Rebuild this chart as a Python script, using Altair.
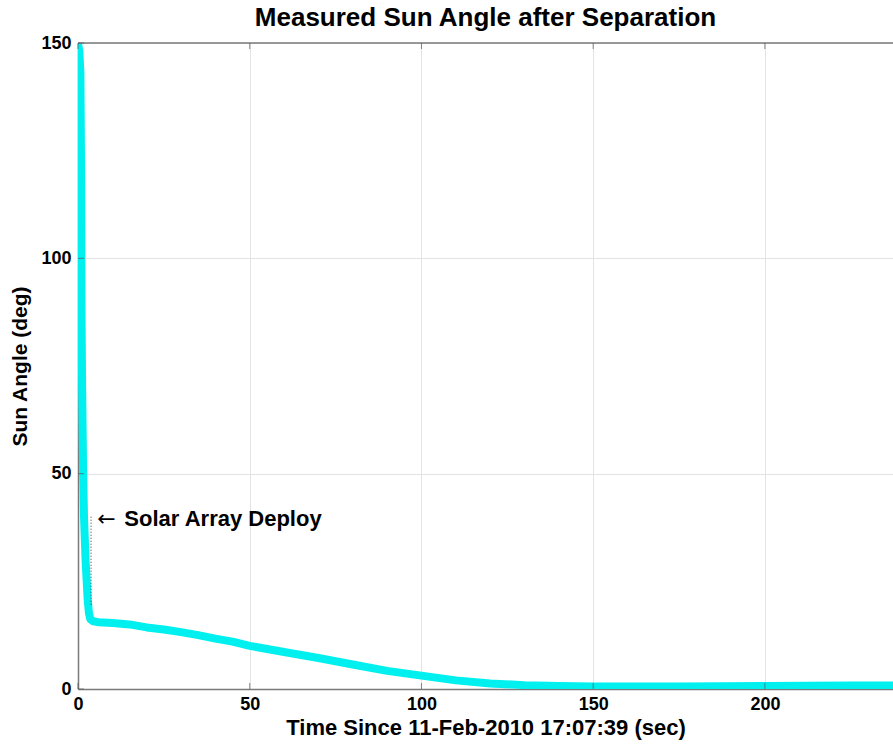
import altair as alt
import pandas as pd

# Sun angle curve
time_sec = [0, 0.4, 0.7, 0.9, 1.0, 1.2, 1.5, 1.75, 2.2, 2.8, 3.2, 3.6, 4.5, 6, 10, 15, 20, 25, 30, 35, 40,
            45, 50, 60, 70, 80, 90, 100, 110, 120, 130, 140, 150, 175, 200, 225, 240]
sun_deg = [150, 148, 143, 120, 90, 70, 50, 40, 30, 21, 17.5, 16.2, 15.7, 15.5, 15.3, 15.0, 14.3, 13.8, 13.2, 12.5, 11.7,
           11.0, 10.0, 8.6, 7.2, 5.7, 4.2, 3.1, 2.0, 1.3, 0.9, 0.7, 0.6, 0.6, 0.7, 0.8, 0.8]

x_ticks = [0, 50, 100, 150, 200]
y_ticks = [0, 50, 100, 150]

deploy_time = [3.8]
deploy_top = [40]
deploy_bottom = [19.5]
arrow_text = ["\u2190"]
arrow_x = [5.6]
label_text = ["Solar Array Deploy"]
label_x = [13.5]
annot_y = [39.5]

X_MAX = 237.3

df = pd.DataFrame({"t": time_sec, "a": sun_deg})
xs = alt.Scale(domain=[0, X_MAX], nice=False, zero=False)
ys = alt.Scale(domain=[0, 150], nice=False)

FONT = "Liberation Sans"

line = alt.Chart(df).mark_line(color="#00F0F0", strokeWidth=8, clip=True, strokeJoin="round", strokeCap="round").encode(
    x=alt.X("t:Q", scale=xs, axis=alt.Axis(
        values=x_ticks, title="Time Since 11-Feb-2010 17:07:39 (sec)", grid=True, gridColor="#e3e3e3",
        domainColor="#7a7a7a", domainWidth=1.5, ticks=False, labelFontSize=18, labelFontWeight="bold",
        labelColor="black", labelFont=FONT, labelPadding=6, titleFontSize=22, titleFontWeight="bold",
        titleFont=FONT, titleColor="black", titlePadding=4, labelFlush=False)),
    y=alt.Y("a:Q", scale=ys, axis=alt.Axis(
        values=y_ticks, title="Sun Angle (deg)", grid=True, gridColor="#e3e3e3",
        domainColor="#7a7a7a", domainWidth=1.5, ticks=False, labelFontSize=18, labelFontWeight="bold",
        labelColor="black", labelFont=FONT, labelPadding=7, titleFontSize=21, titleFontWeight="bold",
        titleFont=FONT, titleColor="black", titlePadding=10)),
)

top_border = alt.Chart(pd.DataFrame({"y": [150]})).mark_rule(color="#7a7a7a", strokeWidth=1.5).encode(
    y=alt.Y("y:Q", scale=ys), x=alt.value(0), x2=alt.value(815))

xt = pd.DataFrame({"t": x_ticks})
bottom_ticks = alt.Chart(xt).mark_tick(color="#555555", size=6, thickness=1).encode(
    x=alt.X("t:Q", scale=xs), y=alt.value(643))
top_ticks = alt.Chart(xt).mark_tick(color="#555555", size=6, thickness=1).encode(
    x=alt.X("t:Q", scale=xs), y=alt.value(3))
yt = pd.DataFrame({"a": y_ticks})
left_ticks = alt.Chart(yt).mark_tick(color="#555555", size=6, thickness=1).encode(
    y=alt.Y("a:Q", scale=ys), x=alt.value(3))

dep = pd.DataFrame({"t": deploy_time, "y1": deploy_top, "y2": deploy_bottom})
deploy = alt.Chart(dep).mark_rule(color="#333333", strokeWidth=1, strokeDash=[1, 2]).encode(
    x=alt.X("t:Q", scale=xs), y=alt.Y("y1:Q", scale=ys), y2="y2:Q")

arr = pd.DataFrame({"t": arrow_x, "a": annot_y, "txt": arrow_text})
arrow = alt.Chart(arr).mark_text(align="left", baseline="middle", fontSize=22, font="DejaVu Sans",
                                 color="black").encode(
    x=alt.X("t:Q", scale=xs), y=alt.Y("a:Q", scale=ys), text="txt:N")

lab = pd.DataFrame({"t": label_x, "a": annot_y, "txt": label_text})
annot = alt.Chart(lab).mark_text(align="left", baseline="middle", fontSize=22, fontWeight="bold",
                                 font=FONT, color="black").encode(
    x=alt.X("t:Q", scale=xs), y=alt.Y("a:Q", scale=ys), text="txt:N")

chart = alt.layer(line, top_border, bottom_ticks, top_ticks, left_ticks, deploy, arrow, annot).properties(
    width=815, height=646,
    title=alt.TitleParams("Measured Sun Angle after Separation", fontSize=26, fontWeight="bold",
                          font=FONT, color="black", anchor="middle", offset=3),
    autosize=alt.AutoSizeParams(type="none"),
    padding={"left": 78, "top": 43, "right": 0, "bottom": 57},
).configure_view(stroke=None).configure(background="white")

chart.save("out.html", embed_options={"renderer": "svg", "actions": False})
